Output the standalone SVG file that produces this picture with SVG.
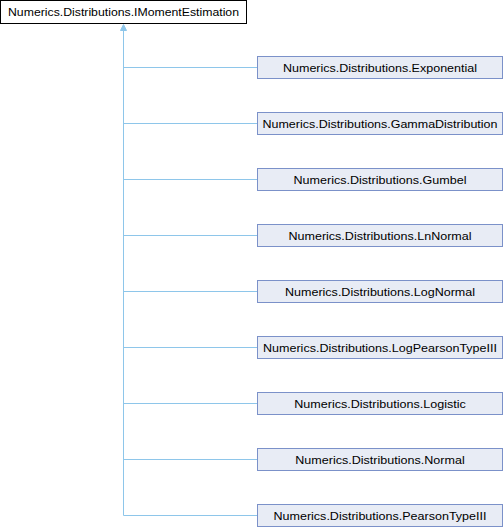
<svg xmlns="http://www.w3.org/2000/svg" width="504" height="528" viewBox="0 0 504 528">
<style>
.bg{fill:#ffffff}
.base{fill:#ffffff;stroke:#000000;stroke-width:1}
.node{fill:#E8ECF5;stroke:#7B91C9;stroke-width:1}
.t{font-family:"Liberation Sans",Arial,sans-serif;font-size:11px;fill:#000000;text-anchor:middle}
.e{fill:none;stroke:#8EC6EA;stroke-width:1}
.ah{fill:#8EC6EA;stroke:#8EC6EA;stroke-width:1}
</style>
<rect class="bg" x="0" y="0" width="504" height="528"/>
<g id="connectors">
<path class="e" d="M123.5,30 V515.5"/>
<path class="e" d="M123.5,67.5 H257 M123.5,123.5 H257 M123.5,179.5 H257 M123.5,235.5 H257 M123.5,291.5 H257 M123.5,347.5 H257 M123.5,403.5 H257 M123.5,459.5 H257 M123.5,515.5 H257"/>
<polygon class="ah" points="123.5,24.5 120.5,30.5 126.5,30.5"/>
</g>
<g id="IMomentEstimation">
<rect class="base" x="0.5" y="0.5" width="246" height="23"/>
<text class="t" x="123.5" y="16" textLength="231" lengthAdjust="spacingAndGlyphs">Numerics.Distributions.IMomentEstimation</text>
</g>
<g id="Exponential">
<rect class="node" x="257.5" y="56.5" width="245" height="22"/>
<text class="t" x="380" y="72" textLength="194" lengthAdjust="spacingAndGlyphs">Numerics.Distributions.Exponential</text>
</g>
<g id="GammaDistribution">
<rect class="node" x="257.5" y="112.5" width="245" height="22"/>
<text class="t" x="380" y="128" textLength="235" lengthAdjust="spacingAndGlyphs">Numerics.Distributions.GammaDistribution</text>
</g>
<g id="Gumbel">
<rect class="node" x="257.5" y="168.5" width="245" height="22"/>
<text class="t" x="380" y="184" textLength="173" lengthAdjust="spacingAndGlyphs">Numerics.Distributions.Gumbel</text>
</g>
<g id="LnNormal">
<rect class="node" x="257.5" y="224.5" width="245" height="22"/>
<text class="t" x="380" y="240" textLength="183" lengthAdjust="spacingAndGlyphs">Numerics.Distributions.LnNormal</text>
</g>
<g id="LogNormal">
<rect class="node" x="257.5" y="280.5" width="245" height="22"/>
<text class="t" x="380" y="296" textLength="190" lengthAdjust="spacingAndGlyphs">Numerics.Distributions.LogNormal</text>
</g>
<g id="LogPearsonTypeIII">
<rect class="node" x="257.5" y="336.5" width="245" height="22"/>
<text class="t" x="380" y="352" textLength="234" lengthAdjust="spacingAndGlyphs">Numerics.Distributions.LogPearsonTypeIII</text>
</g>
<g id="Logistic">
<rect class="node" x="257.5" y="392.5" width="245" height="22"/>
<text class="t" x="380" y="408" textLength="171.5" lengthAdjust="spacingAndGlyphs">Numerics.Distributions.Logistic</text>
</g>
<g id="Normal">
<rect class="node" x="257.5" y="448.5" width="245" height="22"/>
<text class="t" x="380" y="464" textLength="169.5" lengthAdjust="spacingAndGlyphs">Numerics.Distributions.Normal</text>
</g>
<g id="PearsonTypeIII">
<rect class="node" x="257.5" y="504.5" width="245" height="22"/>
<text class="t" x="380" y="520" textLength="213" lengthAdjust="spacingAndGlyphs">Numerics.Distributions.PearsonTypeIII</text>
</g>
</svg>
